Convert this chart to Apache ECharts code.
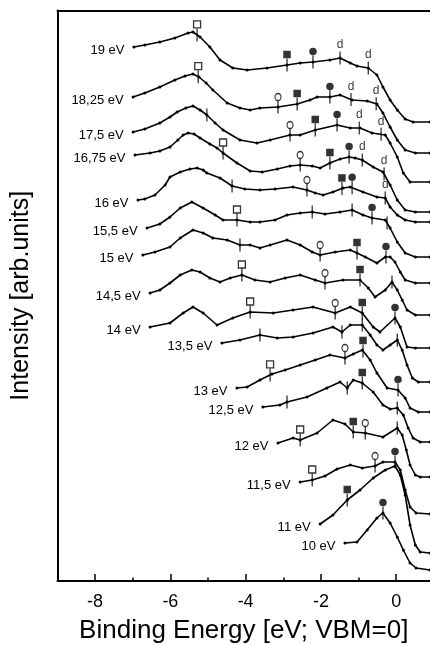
<!DOCTYPE html>
<html><head><meta charset="utf-8">
<script src="https://cdn.jsdelivr.net/npm/echarts@6/dist/echarts.min.js"></script>
<style>html,body{margin:0;padding:0;background:#fff}#c{width:430px;height:645px}</style>
</head><body><div id="c"></div>
<script>
// photon energies (labels)
const labels = ['19 eV','18,25 eV','17,5 eV','16,75 eV','16 eV','15,5 eV','15 eV','14,5 eV','14 eV','13,5 eV','13 eV','12,5 eV','12 eV','11,5 eV','11 eV','10 eV'];
// x tick labels
const tickValues = [-8,-6,-4,-2,0];
const minorTickValues = [-9,-7,-5,-3,-1];

// spectra: binding energy (eV) and offset intensity (arb. units)
const e19 = [-6.97,-6.68,-6.28,-5.88,-5.53,-5.40,-5.21,-4.95,-4.68,-4.34,-3.96,-3.43,-2.90,-2.55,-2.21,-1.76,-1.49,-1.22,-1.04,-0.74,-0.51,-0.35,-0.16,0.03,0.24,0.45,0.90];
const i19 = [53.4,53.6,53.9,54.3,54.8,54.9,54.4,53.4,52.1,51.3,51.1,51.3,51.6,51.8,51.9,52.1,52.3,51.8,51.5,51.3,50.6,49.4,48.1,47.1,46.2,45.9,45.9];
const m19 = [['osq',-5.29],['fsq',-2.90],['fc',-2.21],['d',-1.49],['d',-0.74]];

const e18_25 = [-6.99,-6.68,-6.28,-5.88,-5.61,-5.40,-5.24,-5.05,-4.87,-4.49,-4.15,-3.88,-3.62,-3.14,-2.63,-2.29,-2.10,-1.76,-1.49,-1.17,-0.77,-0.51,-0.35,-0.16,0.03,0.24,0.51,0.90];
const i18_25 = [48.4,48.8,49.4,50.1,50.5,50.7,50.4,49.8,49.1,47.8,47.3,47.1,47.3,47.4,47.7,48.1,48.4,48.4,48.6,48.1,48.0,47.7,46.8,45.4,44.1,43.1,42.8,42.8];
const m18_25 = [['osq',-5.26],['oc',-3.14],['fsq',-2.63],['fc',-1.76],['d',-1.20],['d',-0.53]];

const e17_5 = [-6.99,-6.68,-6.28,-6.01,-5.82,-5.59,-5.40,-5.21,-5.03,-4.81,-4.60,-4.15,-3.70,-3.35,-2.82,-2.55,-2.15,-1.57,-1.22,-0.96,-0.64,-0.29,-0.16,0.03,0.19,0.37,0.90];
const i17_5 = [44.9,45.2,45.8,46.4,46.9,47.3,47.5,47.1,46.6,45.8,45.1,44.1,43.8,44.1,44.6,44.6,45.1,45.6,45.3,45.3,44.8,44.6,43.8,42.4,40.8,39.9,39.9];
const m17_5 = [['tick',-5.03],['oc',-2.82],['fsq',-2.15],['fc',-1.57],['d',-0.98],['d',-0.40]];

const e16_75 = [-6.94,-6.54,-6.28,-6.01,-5.80,-5.66,-5.53,-5.37,-5.21,-4.95,-4.76,-4.60,-4.23,-3.88,-3.56,-3.16,-2.82,-2.55,-2.23,-2.02,-1.76,-1.49,-1.25,-1.09,-0.90,-0.61,-0.35,-0.16,0.03,0.24,0.51,0.90];
const i16_75 = [42.6,42.8,43.0,43.4,44.1,44.6,44.8,44.7,44.3,43.7,43.3,42.8,41.8,41.0,40.9,41.2,41.5,41.6,41.5,41.3,41.8,42.2,42.4,42.3,42.1,41.4,40.9,39.6,38.1,37.1,36.9,36.9];
const m16_75 = [['osq',-4.60],['oc',-2.55],['fsq',-1.76],['fc',-1.25],['d',-0.90],['d',-0.32]];

const e16 = [-6.86,-6.68,-6.41,-6.14,-6.01,-5.74,-5.48,-5.29,-5.13,-5.03,-4.68,-4.36,-4.02,-3.62,-3.22,-2.74,-2.37,-2.15,-1.94,-1.68,-1.41,-1.22,-0.88,-0.51,-0.29,-0.16,0.03,0.24,0.51,0.90];
const i16 = [38.1,38.2,38.6,39.6,40.4,40.9,41.2,41.3,41.1,40.8,40.3,39.5,39.2,39.1,39.2,39.4,39.1,38.8,38.6,38.9,39.3,39.4,38.9,38.4,38.3,37.4,36.6,36.1,35.9,35.9];
const m16 = [['tick',-4.36],['oc',-2.37],['fsq',-1.44],['fc',-1.17],['d',-0.29]];

const e15_5 = [-6.62,-6.28,-6.01,-5.74,-5.43,-5.13,-4.81,-4.60,-4.23,-3.88,-3.62,-3.22,-2.90,-2.55,-2.23,-1.89,-1.49,-1.17,-0.88,-0.64,-0.29,-0.16,0.03,0.24,0.51,0.90];
const i15_5 = [35.3,35.7,36.4,37.3,37.9,37.3,36.6,36.1,36.1,35.9,35.9,36.1,36.6,36.8,36.9,36.7,36.9,37.1,36.6,36.3,36.1,35.3,33.9,32.8,32.4,32.4];
const m15_5 = [['osq',-4.23],['tick',-2.23],['tick',-1.17],['fc',-0.64],['tick',-0.24]];

const e15 = [-6.73,-6.41,-6.01,-5.74,-5.40,-5.13,-4.87,-4.49,-4.15,-3.88,-3.62,-3.35,-2.90,-2.55,-2.23,-2.02,-1.62,-1.22,-1.04,-0.82,-0.51,-0.29,-0.16,-0.03,0.11,0.24,0.51,0.90];
const i15 = [32.6,32.9,33.4,34.3,35.1,34.8,34.3,34.1,33.6,33.6,33.3,33.6,34.1,33.6,32.9,32.6,32.9,33.1,32.8,32.4,31.8,32.4,32.4,31.9,30.9,30.1,29.8,29.8];
const m15 = [['tick',-4.15],['oc',-2.02],['fsq',-1.04],['fc',-0.27]];

const e14_5 = [-6.54,-6.28,-6.01,-5.74,-5.43,-5.21,-4.95,-4.68,-4.41,-4.10,-3.75,-3.35,-2.95,-2.55,-2.15,-1.89,-1.41,-0.96,-0.74,-0.56,-0.29,-0.11,0.03,0.16,0.29,0.51,0.90];
const i14_5 = [28.8,29.1,29.8,30.6,31.1,30.9,30.3,29.9,30.3,30.6,30.1,29.9,30.3,30.6,30.1,29.8,30.1,30.1,29.3,28.4,29.1,29.9,29.1,28.1,27.1,26.6,26.6];
const m14_5 = [['osq',-4.10],['oc',-1.89],['fsq',-0.96],['tick',-0.11]];

const e14 = [-6.54,-6.01,-5.66,-5.40,-5.13,-4.76,-4.34,-3.88,-3.27,-2.74,-2.21,-1.62,-1.22,-0.90,-0.61,-0.43,-0.03,0.11,0.29,0.51,0.90];
const i14 = [25.4,25.8,26.8,27.4,26.8,25.6,26.3,26.9,26.8,27.1,27.4,26.8,27.4,26.8,25.4,24.9,26.3,25.4,23.4,23.3,23.3];
const m14 = [['osq',-3.88],['oc',-1.62],['fsq',-0.90],['fc',-0.03]];

const e13_5 = [-4.63,-4.15,-3.62,-3.16,-2.74,-2.21,-1.68,-1.44,-1.22,-0.90,-0.69,-0.51,-0.35,-0.16,0.03,0.16,0.29,0.43,0.59,0.90];
const i13_5 = [23.8,24.1,24.6,24.3,24.4,24.8,25.4,24.9,25.6,25.6,24.6,23.6,23.1,23.6,24.1,23.1,21.6,20.3,19.9,19.9];
const m13_5 = [['tick',-3.62],['tick',-1.44],['tick',-0.90],['tick',0.03]];

const e13 = [-4.23,-3.96,-3.62,-3.30,-2.95,-2.55,-2.15,-1.76,-1.36,-1.14,-0.90,-0.69,-0.51,-0.24,0.05,0.24,0.37,0.59,0.90];
const i13 = [19.3,19.4,20.1,20.7,21.1,21.6,22.1,22.6,22.3,22.7,23.1,22.1,20.8,19.3,19.1,18.3,17.3,16.9,16.9];
const m13 = [['osq',-3.35],['oc',-1.36],['fsq',-0.88],['fc',0.05]];

const e12_5 = [-3.54,-3.09,-2.90,-2.37,-1.84,-1.49,-1.30,-1.14,-0.90,-0.61,-0.35,-0.16,0.03,0.19,0.32,0.45,0.64,0.90];
const i12_5 = [17.4,17.6,17.9,18.4,19.3,19.9,19.3,20.1,19.8,18.9,17.6,17.2,17.3,16.6,15.3,14.3,13.9,13.9];
const m12_5 = [['tick',-2.90],['tick',-1.30],['fsq',-0.90],['tick',0.03]];

const e12 = [-3.14,-2.74,-2.55,-2.10,-1.68,-1.36,-1.14,-0.82,-0.35,0.03,0.16,0.27,0.37,0.51,0.64,0.90];
const i12 = [13.8,14.3,14.1,14.8,16.1,15.7,14.9,14.8,14.4,15.3,14.6,13.1,11.6,10.6,10.4,10.4];
const m12 = [['osq',-2.55],['fsq',-1.14],['oc',-0.82],['tick',0.03]];

const e11_5 = [-2.55,-2.23,-1.89,-1.57,-1.22,-0.90,-0.56,-0.35,-0.03,0.11,0.24,0.37,0.53,0.90];
const i11_5 = [9.9,10.1,10.5,11.2,11.6,11.3,11.5,11.9,11.9,11.1,9.1,7.4,6.8,6.7];
const m11_5 = [['osq',-2.23],['oc',-0.56],['fc',-0.03]];

const e11 = [-2.02,-1.68,-1.30,-0.96,-0.61,-0.29,-0.03,0.11,0.24,0.37,0.51,0.64,0.90];
const i11 = [5.7,6.6,8.1,9.1,10.3,11.1,11.5,10.6,8.6,5.6,3.6,2.9,2.8];
const m11 = [['fsq',-1.30]];

const e10 = [-1.36,-1.04,-0.77,-0.51,-0.35,-0.16,0.03,0.19,0.37,0.53,0.90];
const i10 = [3.8,3.9,5.1,6.3,6.8,5.8,4.4,3.1,1.8,1.3,1.1];
const m10 = [['fc',-0.35]];

const spectra = [
  [labels[0], e19, i19, m19], [labels[1], e18_25, i18_25, m18_25], [labels[2], e17_5, i17_5, m17_5],
  [labels[3], e16_75, i16_75, m16_75], [labels[4], e16, i16, m16], [labels[5], e15_5, i15_5, m15_5],
  [labels[6], e15, i15, m15], [labels[7], e14_5, i14_5, m14_5], [labels[8], e14, i14, m14],
  [labels[9], e13_5, i13_5, m13_5], [labels[10], e13, i13, m13], [labels[11], e12_5, i12_5, m12_5],
  [labels[12], e12, i12, m12], [labels[13], e11_5, i11_5, m11_5], [labels[14], e11, i11, m11],
  [labels[15], e10, i10, m10]
];

const FONT = '"Liberation Sans", Arial, Helvetica, sans-serif';

function yAt(e, v, x) {
  for (let k = 0; k < e.length - 1; k++) {
    if (x >= e[k] && x <= e[k + 1]) { const t = (x - e[k]) / (e[k + 1] - e[k]); return v[k] + t * (v[k + 1] - v[k]); }
  }
  return x < e[0] ? v[0] : v[v.length - 1];
}

const series = [];
spectra.forEach(([name, e, v]) => {
  const data = e.map((x, k) => [x, v[k]]);
  data[0] = { value: data[0], label: { show: true, position: 'left', distance: 8, offset: [0, 3], formatter: name, color: '#000', fontSize: 13, fontFamily: FONT } };
  series.push({ type: 'line', data, symbol: 'circle', symbolSize: 3, showSymbol: true, showAllSymbol: true,
    lineStyle: { color: '#000', width: 1.6 }, itemStyle: { color: '#000' }, silent: true, z: 2, clip: false });
});

const marks = { osq: [], fsq: [], fc: [], oc: [], d: [], stem: [] };
spectra.forEach(([name, e, v, m]) => m.forEach(([t, x]) => {
  const y = yAt(e, v, x);
  marks.stem.push([x, y]);
  if (t !== 'tick') marks[t].push([x, y]);
}));

series.push({ type: 'scatter', data: marks.stem, symbol: 'rect', symbolSize: [1.3, 13], itemStyle: { color: '#000' }, z: 3, silent: true });
series.push({ type: 'scatter', data: marks.osq, symbol: 'rect', symbolSize: 7, symbolOffset: [0, -10.5], itemStyle: { color: '#fff', borderColor: '#000', borderWidth: 1.3 }, z: 4, silent: true });
series.push({ type: 'scatter', data: marks.fsq, symbol: 'rect', symbolSize: 7.5, symbolOffset: [0, -10.5], itemStyle: { color: '#000' }, z: 4, silent: true });
series.push({ type: 'scatter', data: marks.fc, symbol: 'circle', symbolSize: 7.5, symbolOffset: [0, -10.5], itemStyle: { color: '#000' }, z: 4, silent: true });
series.push({ type: 'scatter', data: marks.oc, symbol: 'circle', symbolSize: [6, 7], symbolOffset: [0, -10], itemStyle: { color: '#fff', borderColor: '#000', borderWidth: 1.2 }, z: 4, silent: true });
series.push({ type: 'scatter', data: marks.d, symbol: 'circle', symbolSize: 0.1, itemStyle: { color: 'rgba(0,0,0,0)' },
  label: { show: true, position: 'inside', offset: [0, -13], formatter: 'd', color: '#000', fontSize: 12, fontFamily: FONT }, z: 4, silent: true });

const chart = echarts.init(document.getElementById('c'), null, { renderer: 'canvas' });
chart.setOption({
  animation: false,
  backgroundColor: '#fff',
  grid: { left: 57.5, right: 0, top: 10.5, bottom: 64, containLabel: false, outerBoundsMode: 'none' },
  xAxis: [
    { type: 'value', min: -9, max: 0.9, position: 'bottom',
      axisLine: { show: true, onZero: false, lineStyle: { color: '#000', width: 2 } },
      axisTick: { show: true, inside: true, length: 7, customValues: tickValues, lineStyle: { color: '#000', width: 1.5 } },
      axisLabel: { show: true, customValues: tickValues, color: '#000', fontSize: 18, margin: 12, fontFamily: FONT },
      splitLine: { show: false },
      name: 'Binding Energy [eV; VBM=0]', nameLocation: 'middle', nameGap: 37,
      nameTextStyle: { color: '#000', fontSize: 26, fontFamily: FONT, verticalAlign: 'top' } },
    { type: 'value', min: -9, max: 0.9, position: 'bottom',
      axisLine: { show: false, onZero: false },
      axisTick: { show: true, inside: true, length: 3.5, customValues: minorTickValues, lineStyle: { color: '#000', width: 1.5 } },
      axisLabel: { show: false }, splitLine: { show: false } },
    { type: 'value', min: -9, max: 0.9, position: 'top',
      axisLine: { show: true, onZero: false, lineStyle: { color: '#000', width: 2 } },
      axisTick: { show: false }, axisLabel: { show: false }, splitLine: { show: false } }
  ],
  yAxis: { type: 'value', min: 0, max: 57.05,
    axisLine: { show: true, onZero: false, lineStyle: { color: '#000', width: 2 } },
    axisTick: { show: false }, axisLabel: { show: false }, splitLine: { show: false },
    name: 'Intensity [arb.units]', nameLocation: 'middle', nameGap: 24, nameRotate: 90,
    nameTextStyle: { color: '#000', fontSize: 25, fontFamily: FONT } },
  series
});
</script></body></html>
